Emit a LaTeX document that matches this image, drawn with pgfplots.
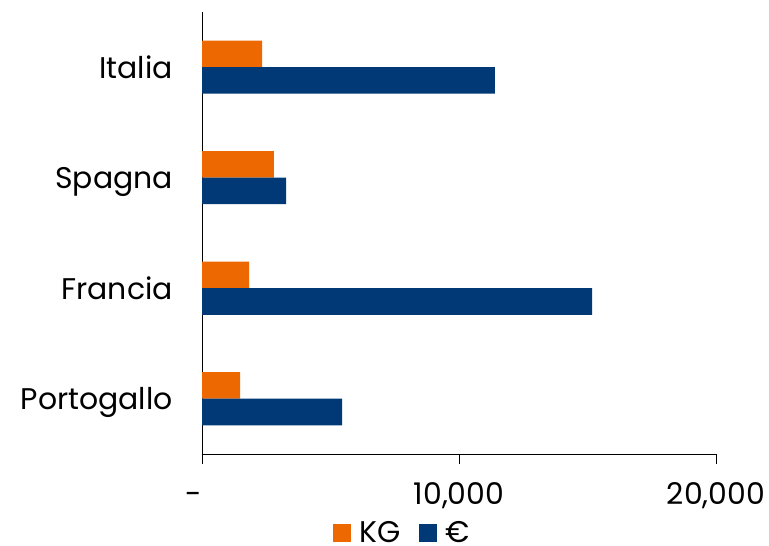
\documentclass[border=0pt]{standalone}
\usepackage{pgfplots}
\pgfplotsset{compat=1.18}
\usepackage{fontspec}
\setmainfont{Poppins}
\definecolor{kgorange}{RGB}{237,104,0}
\definecolor{eurblue}{RGB}{0,57,118}

\begin{document}
\begin{tikzpicture}
\useasboundingbox (0,0) rectangle (769bp,546bp);
\begin{axis}[
    at={(202bp,92bp)}, anchor=south west,
    scale only axis,
    width=514bp, height=442bp,
    xmin=0, xmax=20000,
    ymin=-0.5, ymax=3.5,
    axis x line*=bottom,
    axis y line*=left,
    axis line style={line width=1bp, black},
    scaled x ticks=false,
    xtick={0,10000,20000},
    xticklabels={{-\kern16bp},{10,000},{20,000}},
    ytick={0,1,2,3},
    yticklabels={Portogallo,Francia,Spagna,Italia},
    tick align=outside,
    major tick length=10bp,
    xtick style={line width=1bp, black},
    ytick style={draw=none},
    font=\fontsize{30}{36}\selectfont,
    /pgf/number format/assume math mode=true,
    xticklabel style={inner sep=0pt, anchor=north, text height=22bp, yshift=-18bp},
    yticklabel style={inner sep=0pt, anchor=base east, xshift=-19bp, yshift=-11bp},
    xbar, bar width=26.5bp,
    legend style={at={(0.39,-0.178)}, anchor=center, draw=none,
        legend columns=2, font=\fontsize{30}{36}\selectfont,
        /tikz/every odd column/.append style={column sep=7bp},
        /tikz/every even column/.append style={column sep=16bp}},
    legend image code/.code={\fill[#1] (0bp,-9bp) rectangle (18bp,9bp);},
]
\addplot[fill=kgorange, draw=none, bar shift=13.25bp]
    coordinates {(1480,0) (1830,1) (2800,2) (2335,3)};
\addplot[fill=eurblue, draw=none, bar shift=-13.25bp]
    coordinates {(5450,0) (15175,1) (3270,2) (11400,3)};
\legend{KG, €}
\end{axis}
\end{tikzpicture}
\end{document}
